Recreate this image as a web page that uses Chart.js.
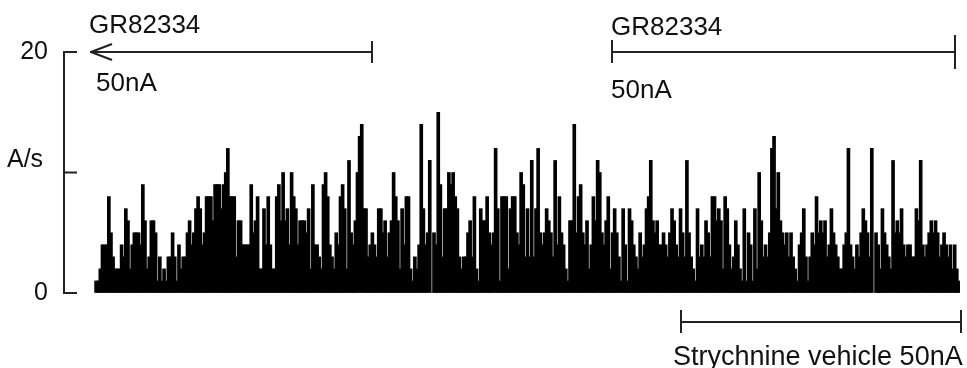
<!DOCTYPE html>
<html>
<head>
<meta charset="utf-8">
<script src="https://cdn.jsdelivr.net/npm/chart.js@4.4.1/dist/chart.umd.min.js"></script>
<style>
    html, body { margin: 0; padding: 0; background: #fff; }
    #wrap { width: 967px; height: 368px; }
</style>
</head>
<body>
<div id="wrap"><canvas id="rateChart" width="967" height="368"></canvas></div>
<script>
const rateA = [1,1,2,4,4,4,8,5,3,2,2,2,4,3,7,6,2,4,5,5,5,4,9,6,2,3,6,6,5,1,3,1,2,1,3,3,5,3,1,4,2,3,3,5,6,4,5,7,8,7,4,5,8,8,8,6,9,9,9,7,9,10,12,8,8,8,3,6,6,4,4,4,4];
const rateB = [9,5,6,8,2,2,7,4,8,4,2,2,8,9,6,10,6,7,4,10,8,7,4,6,6,6,5,7];
const rateC = [2,9,4,4,3,2,9,10,8,4,3,2,5,4,8,9,7,2,11,5,4,6,10,13,14,7,7,3,4,5,4,3,7,7,5,6,3,5,6,10,8,6,2,7,4,8,8,2,1,3,2,4,14,7,4,5,11,0,5,4,15,9,3,7,7,10,9,10,8,7,3,2,3,3,5,6,3,8,2,1,7,6,6,8,5,4,5,12,7,1,8,8,8,2,7,8,8,5,4];
const rateD = [10,9,3,7,3,11,3,7,12,5,4,5,7,6,5,3,11,4,8,5,4,2,1,6,6,14,5,8,9,5,4,6,2,4,8,6,11,10,5,4,6,8,2,5,7,5,3,1,7,4,1,7,6,4,3,2,5,3,4,7,8,11,6,5,6,4,4,5,4,3,5,7,6,4,3,7,5,3,11,5,3,2,1,7,3,4,3,6,5,3,8,8,6,7,6,2,8,7,4];
const rateE = [2,3,6,4,2,1,7,1,5,4,1,7,2,10,6,3,4,3,5,12,13,7,10,6,5,4,5,3,5,3,2,1,4,5,7,3,1,3,5,4,8,5,6,5,6,3,4,7,5,4,3,2,2,4,5,12,4,3,2,4,3,5,7,6,5,3,12,0,5,4,2,7,5,4,3,2,11,5,6,5,7,4,3,4,4,3,3,7,6,11,4,3,4,5,6,5,6,5,3,4,5,4,3,4,2,4,2,1];

const rates = [].concat(rateA, rateB, rateC, rateD, rateE);
const yTicks = [0, 10, 20];
const yTickLabels = { 0: '0', 10: '', 20: '20' };
const yUnit = 'A/s';
const drugLabel = 'GR82334';
const currentLabel = '50nA';
const vehicleLabel = 'Strychnine vehicle 50nA';

const FONT = '"Liberation Sans", Arial, sans-serif';
const INK = '#111';

function seg(ctx, x1, y1, x2, y2) {
    ctx.beginPath();
    ctx.moveTo(x1, y1);
    ctx.lineTo(x2, y2);
    ctx.stroke();
}

// marcas del eje hacia dentro, unidad y barras de aplicacion del farmaco
const markers = {
    id: 'markers',
    afterDraw(chart) {
        const { ctx, chartArea, scales: { y } } = chart;
        ctx.save();
        ctx.strokeStyle = '#222';
        ctx.lineWidth = 2;
        yTicks.forEach(t => {
            const py = y.getPixelForValue(t);
            seg(ctx, chartArea.left, py, chartArea.left + 13, py);
        });

        ctx.fillStyle = INK;
        ctx.font = '25px ' + FONT;
        ctx.textBaseline = 'middle';
        ctx.fillText(yUnit, 7, 160);

        ctx.textBaseline = 'alphabetic';
        ctx.font = '26px ' + FONT;
        ctx.lineWidth = 2;

        // GR82334 (izquierda, con flecha)
        ctx.fillText(drugLabel, 89, 33);
        ctx.fillText(currentLabel, 96, 91);
        seg(ctx, 90, 52, 372, 52);
        seg(ctx, 372, 41, 372, 63);
        seg(ctx, 91, 52, 112, 44);
        seg(ctx, 91, 52, 112, 60);

        // GR82334 (derecha)
        ctx.fillText(drugLabel, 611, 35);
        ctx.fillText(currentLabel, 611, 98);
        seg(ctx, 612, 52, 955, 52);
        seg(ctx, 612, 40, 612, 63);
        seg(ctx, 955, 35, 955, 69);

        // vehiculo
        seg(ctx, 681, 322, 961, 322);
        seg(ctx, 681, 310, 681, 333);
        seg(ctx, 961, 310, 961, 333);
        ctx.font = '27px ' + FONT;
        ctx.fillText(vehicleLabel, 673, 365);
        ctx.restore();
    }
};

const ctx = document.getElementById('rateChart');
new Chart(ctx, {
    type: 'bar',
    data: {
        datasets: [{
            data: rates.map((v, i) => ({ x: i, y: v })),
            backgroundColor: '#000',
            borderWidth: 0,
            barThickness: 3
        }]
    },
    options: {
        responsive: false,
        animation: false,
        devicePixelRatio: 1,
        layout: { padding: { left: 0, top: 52, right: 7, bottom: 75 } },
        plugins: { legend: { display: false }, tooltip: { enabled: false } },
        scales: {
            x: { type: 'linear', offset: false, min: -15.1, max: rates.length - 0.5, display: false },
            y: {
                min: 0,
                max: 20,
                afterFit: s => { s.width = 64; },
                afterBuildTicks: s => { s.ticks = yTicks.map(v => ({ value: v })); },
                ticks: {
                    padding: 16,
                    color: INK,
                    font: { family: FONT, size: 25 },
                    callback: v => yTickLabels[v]
                },
                grid: { drawOnChartArea: false, drawTicks: false },
                border: { display: true, color: '#222', width: 2 }
            }
        }
    },
    plugins: [markers]
});
</script>
</body>
</html>
